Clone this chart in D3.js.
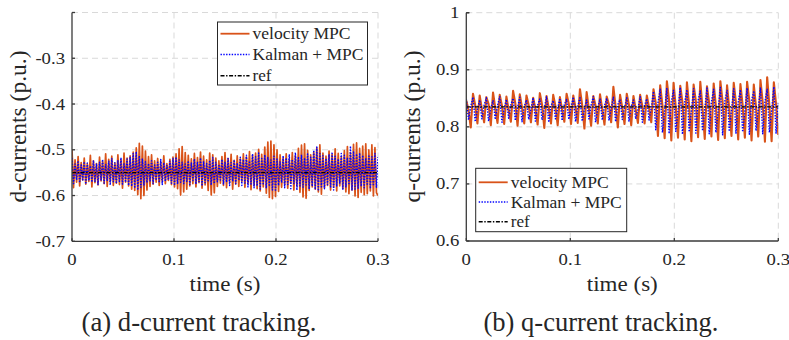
<!DOCTYPE html>
<html>
<head>
<meta charset="utf-8">
<script src="https://cdn.jsdelivr.net/npm/d3@7"></script>
<style>
  body { margin: 0; background: #fff; }
</style>
</head>
<body>
<svg id="fig" width="789" height="340" font-family="'Liberation Serif', 'DejaVu Serif', serif"></svg>
<script>
// ---- d-current tracking (sampled every 1.5 ms) ----
const dTimeStep = 0.0015;
const dVelocityMPC = [
  -0.500, -0.583, -0.522, -0.571, -0.515, -0.579, -0.528, -0.566, -0.518, -0.575,
  -0.531, -0.569, -0.512, -0.581, -0.524, -0.572, -0.530, -0.577, -0.516, -0.568,
  -0.526, -0.574, -0.509, -0.580, -0.521, -0.570, -0.514, -0.578, -0.529, -0.573,
  -0.511, -0.576, -0.522, -0.584, -0.507, -0.571, -0.518, -0.579, -0.513, -0.586,
  -0.505, -0.589, -0.496, -0.598, -0.486, -0.607, -0.492, -0.600, -0.503, -0.588,
  -0.515, -0.580, -0.511, -0.575, -0.524, -0.571, -0.519, -0.578, -0.527, -0.569,
  -0.513, -0.574, -0.530, -0.567, -0.521, -0.576, -0.516, -0.581, -0.509, -0.585,
  -0.498, -0.599, -0.493, -0.592, -0.506, -0.586, -0.512, -0.579, -0.520, -0.574,
  -0.508, -0.581, -0.517, -0.572, -0.505, -0.584, -0.514, -0.577, -0.522, -0.589,
  -0.507, -0.599, -0.511, -0.594, -0.518, -0.580, -0.524, -0.573, -0.515, -0.578,
  -0.506, -0.583, -0.519, -0.571, -0.510, -0.586, -0.523, -0.575, -0.513, -0.580,
  -0.520, -0.569, -0.509, -0.582, -0.516, -0.574, -0.504, -0.587, -0.512, -0.578,
  -0.507, -0.585, -0.499, -0.590, -0.510, -0.581, -0.494, -0.595, -0.483, -0.604,
  -0.481, -0.607, -0.489, -0.602, -0.500, -0.591, -0.511, -0.582, -0.518, -0.576,
  -0.509, -0.584, -0.521, -0.573, -0.506, -0.588, -0.513, -0.579, -0.497, -0.593,
  -0.490, -0.603, -0.487, -0.606, -0.501, -0.589, -0.511, -0.581, -0.505, -0.586,
  -0.496, -0.592, -0.489, -0.597, -0.507, -0.583, -0.514, -0.578, -0.503, -0.588,
  -0.510, -0.581, -0.498, -0.590, -0.508, -0.579, -0.515, -0.585, -0.502, -0.592,
  -0.493, -0.596, -0.506, -0.588, -0.488, -0.601, -0.485, -0.604, -0.497, -0.593,
  -0.492, -0.598, -0.487, -0.596, -0.500, -0.590, -0.489, -0.601, -0.495, -0.594,
  -0.600
];
const dKalmanMPC = [
  -0.518, -0.574, -0.531, -0.566, -0.524, -0.572, -0.533, -0.568, -0.526, -0.575,
  -0.529, -0.567, -0.535, -0.571, -0.523, -0.569, -0.530, -0.576, -0.527, -0.566,
  -0.521, -0.573, -0.532, -0.568, -0.525, -0.577, -0.519, -0.570, -0.528, -0.574,
  -0.524, -0.569, -0.517, -0.575, -0.529, -0.571, -0.520, -0.578, -0.515, -0.580,
  -0.508, -0.584, -0.504, -0.588, -0.513, -0.582, -0.519, -0.577, -0.526, -0.572,
  -0.530, -0.568, -0.524, -0.574, -0.533, -0.567, -0.527, -0.572, -0.521, -0.576,
  -0.528, -0.569, -0.534, -0.566, -0.525, -0.573, -0.519, -0.578, -0.516, -0.575,
  -0.522, -0.571, -0.527, -0.574, -0.531, -0.569, -0.524, -0.576, -0.529, -0.567,
  -0.520, -0.575, -0.526, -0.570, -0.518, -0.579, -0.525, -0.572, -0.530, -0.568,
  -0.523, -0.577, -0.517, -0.574, -0.527, -0.570, -0.532, -0.566, -0.521, -0.575,
  -0.526, -0.571, -0.519, -0.578, -0.528, -0.569, -0.522, -0.574, -0.529, -0.567,
  -0.516, -0.578, -0.521, -0.573, -0.512, -0.581, -0.524, -0.575, -0.509, -0.583,
  -0.515, -0.579, -0.507, -0.586, -0.519, -0.577, -0.511, -0.584, -0.517, -0.580,
  -0.522, -0.588, -0.514, -0.591, -0.520, -0.578, -0.526, -0.572, -0.513, -0.583,
  -0.518, -0.576, -0.510, -0.585, -0.521, -0.574, -0.506, -0.588, -0.515, -0.579,
  -0.511, -0.582, -0.518, -0.577, -0.509, -0.586, -0.516, -0.580, -0.501, -0.587,
  -0.494, -0.590, -0.508, -0.581, -0.513, -0.585, -0.519, -0.576, -0.510, -0.583,
  -0.505, -0.588, -0.514, -0.579, -0.520, -0.574, -0.508, -0.586, -0.512, -0.581,
  -0.517, -0.577, -0.492, -0.589, -0.503, -0.586, -0.509, -0.584, -0.507, -0.580,
  -0.512, -0.583, -0.518, -0.578, -0.511, -0.585, -0.515, -0.579, -0.508, -0.582,
  -0.516
];
const dRef = -0.55;

// ---- q-current tracking (141 samples over 0.3 s) ----
const qTimeStep = 0.3 / 140;
const qVelocityMPC = [
  0.846, 0.829, 0.799,  0.858, 0.838, 0.806,  0.855, 0.831, 0.808,  0.852, 0.840, 0.803,
  0.860, 0.833, 0.807,  0.856, 0.837, 0.805,  0.853, 0.830, 0.809,  0.863, 0.841, 0.802,
  0.857, 0.834, 0.806,  0.855, 0.838, 0.808,  0.851, 0.832, 0.804,  0.859, 0.839, 0.798,
  0.854, 0.833, 0.806,  0.856, 0.836, 0.803,  0.852, 0.830, 0.809,  0.858, 0.840, 0.805,
  0.855, 0.834, 0.807,  0.866, 0.838, 0.797,  0.861, 0.832, 0.802,  0.854, 0.837, 0.806,
  0.857, 0.831, 0.804,  0.853, 0.839, 0.808,  0.870, 0.835, 0.799,  0.856, 0.833, 0.805,
  0.858, 0.838, 0.803,  0.854, 0.831, 0.807,  0.856, 0.836, 0.806,  0.855, 0.834, 0.808,
  0.866, 0.842, 0.784,  0.873, 0.838, 0.780,  0.880, 0.846, 0.776,  0.877, 0.834, 0.781,
  0.872, 0.843, 0.778,  0.878, 0.837, 0.775,  0.874, 0.845, 0.782,  0.879, 0.833, 0.779,
  0.871, 0.841, 0.783,  0.876, 0.836, 0.777,  0.880, 0.844, 0.780,  0.873, 0.832, 0.784,
  0.877, 0.842, 0.778,  0.875, 0.838, 0.781,  0.879, 0.846, 0.776,  0.874, 0.835, 0.783,
  0.882, 0.843, 0.774,  0.887, 0.837, 0.775,  0.878, 0.840, 0.786
];
const qKalmanMPC = [
  0.849, 0.812, 0.836,  0.852, 0.809, 0.831,  0.847, 0.814, 0.838,  0.851, 0.810, 0.833,
  0.846, 0.813, 0.837,  0.853, 0.808, 0.832,  0.848, 0.815, 0.839,  0.850, 0.811, 0.834,
  0.852, 0.809, 0.836,  0.847, 0.813, 0.831,  0.851, 0.810, 0.838,  0.849, 0.812, 0.833,
  0.853, 0.808, 0.837,  0.846, 0.814, 0.832,  0.850, 0.811, 0.839,  0.848, 0.813, 0.834,
  0.852, 0.809, 0.836,  0.851, 0.810, 0.831,  0.847, 0.814, 0.838,  0.853, 0.808, 0.833,
  0.849, 0.812, 0.837,  0.850, 0.811, 0.832,  0.852, 0.809, 0.839,  0.848, 0.813, 0.834,
  0.851, 0.810, 0.836,  0.847, 0.814, 0.831,  0.853, 0.808, 0.838,  0.849, 0.812, 0.833,
  0.862, 0.795, 0.842,  0.866, 0.790, 0.829,  0.868, 0.788, 0.845,  0.864, 0.792, 0.830,
  0.869, 0.787, 0.843,  0.865, 0.791, 0.828,  0.867, 0.789, 0.846,  0.863, 0.793, 0.831,
  0.868, 0.788, 0.844,  0.866, 0.790, 0.829,  0.869, 0.786, 0.845,  0.864, 0.792, 0.830,
  0.867, 0.789, 0.843,  0.865, 0.791, 0.828,  0.868, 0.787, 0.846,  0.863, 0.793, 0.831,
  0.869, 0.788, 0.844,  0.866, 0.790, 0.829,  0.870, 0.789, 0.842
];
const qRef = 0.835;

// ---- axes, ticks and labels ----
const timeTicks = [0, 0.1, 0.2, 0.3];
const timeTickLabels = ["0", "0.1", "0.2", "0.3"];
const dTicks = [-0.7, -0.6, -0.5, -0.4, -0.3];
const dTickLabels = ["-0.7", "-0.6", "-0.5", "-0.4", "-0.3"];
const dGrid = [-0.6, -0.5, -0.4, -0.3, -0.2];
const qTicks = [0.6, 0.7, 0.8, 0.9, 1];
const qTickLabels = ["0.6", "0.7", "0.8", "0.9", "1"];
const qGrid = [0.7, 0.8, 0.9, 1];
const legendNames = ["velocity MPC", "Kalman + MPC", "ref"];
const legendWidths = [98, 111, 19];

const COLORS = { vel: "#D95319", kal: "#0000FF", ref: "#000000" };
const STYLES = [
  { color: COLORS.vel, width: 1.8, dash: null },
  { color: COLORS.kal, width: 1.4, dash: "1.4,1.4" },
  { color: COLORS.ref, width: 1.4, dash: "4,1.6,1.4,1.6" }
];
const SERIF = "'Liberation Serif', 'Times New Roman', serif";

const svg = d3.select("#fig");

function label(g, x, y, str, size, anchor, len) {
  const t = g.append("text")
    .attr("x", x).attr("y", y)
    .attr("font-family", SERIF)
    .attr("font-size", size)
    .attr("fill", "#262626")
    .attr("text-anchor", anchor)
    .text(str);
  if (len) t.attr("textLength", len).attr("lengthAdjust", "spacingAndGlyphs");
  return t;
}

function panel(cfg) {
  const g = svg.append("g");
  const x = d3.scaleLinear().domain([0, 0.3]).range([cfg.left, cfg.right]);
  const y = d3.scaleLinear().domain(cfg.yDomain).range([cfg.bottom, cfg.top]);

  // dashed grid
  const grid = g.append("g").attr("stroke", "#d9d9d9").attr("stroke-width", 1)
    .attr("stroke-dasharray", "6,4");
  grid.selectAll("line.h").data(cfg.grid).join("line")
    .attr("x1", cfg.left).attr("x2", cfg.right)
    .attr("y1", d => y(d)).attr("y2", d => y(d));
  grid.selectAll("line.v").data(timeTicks.slice(1)).join("line")
    .attr("x1", d => x(d)).attr("x2", d => x(d))
    .attr("y1", cfg.top).attr("y2", cfg.bottom);

  // data traces
  const clipId = "clip-" + cfg.id;
  g.append("clipPath").attr("id", clipId).append("rect")
    .attr("x", cfg.left).attr("y", cfg.top)
    .attr("width", cfg.right - cfg.left).attr("height", cfg.bottom - cfg.top);
  const traces = g.append("g").attr("clip-path", `url(#${clipId})`);
  const line = d3.line().x(d => x(d[0])).y(d => y(d[1]));
  const toPts = (arr, dt) => arr.map((v, i) => [i * dt, v]);
  const series = [
    toPts(cfg.vel, cfg.dt),
    toPts(cfg.kal, cfg.dt),
    [[0, cfg.ref], [0.3, cfg.ref]]
  ];
  series.forEach((pts, k) => {
    traces.append("path")
      .attr("d", line(pts))
      .attr("fill", "none")
      .attr("stroke", STYLES[k].color)
      .attr("stroke-width", k === 0 ? cfg.velWidth : STYLES[k].width)
      .attr("stroke-linejoin", "round")
      .attr("stroke-dasharray", STYLES[k].dash);
  });

  // axis lines with inward ticks
  const ax = g.append("g").attr("stroke", "#3a3a3a").attr("stroke-width", 1.3);
  ax.append("line").attr("x1", cfg.left).attr("x2", cfg.left)
    .attr("y1", cfg.top).attr("y2", cfg.bottom);
  ax.append("line").attr("x1", cfg.left).attr("x2", cfg.right)
    .attr("y1", cfg.bottom).attr("y2", cfg.bottom);
  ax.selectAll("line.yt").data(cfg.ticks.concat(cfg.yDomain[1])).join("line")
    .attr("x1", cfg.left).attr("x2", cfg.left + 3)
    .attr("y1", d => y(d)).attr("y2", d => y(d));
  ax.selectAll("line.xt").data(timeTicks).join("line")
    .attr("x1", d => x(d)).attr("x2", d => x(d))
    .attr("y1", cfg.bottom).attr("y2", cfg.bottom - 3);

  // tick labels
  cfg.ticks.forEach((v, i) => {
    label(g, cfg.left - 7, y(v) + 5.5, cfg.tickLabels[i], 17, "end")
      .attr("transform", `translate(${cfg.left - 7},0) scale(1.1,1) translate(${-(cfg.left - 7)},0)`);
  });
  timeTicks.forEach((v, i) => {
    label(g, x(v), 265.5, timeTickLabels[i], 17, "middle")
      .attr("transform", `translate(${x(v)},0) scale(1.1,1) translate(${-x(v)},0)`);
  });

  // axis titles and caption
  label(g, (cfg.left + cfg.right) / 2, 291, "time (s)", 21, "middle", 71);
  g.append("text")
    .attr("transform", `translate(${cfg.left - 46.5},126.5) rotate(-90)`)
    .attr("font-family", SERIF)
    .attr("font-size", 23.5)
    .attr("fill", "#262626")
    .attr("text-anchor", "middle")
    .text(cfg.yTitle);
  label(g, cfg.captionX, 330.5, cfg.caption, 27, "middle", 235);

  // legend
  const L = cfg.legend;
  const lg = g.append("g");
  lg.append("rect").attr("x", L.x).attr("y", L.y)
    .attr("width", L.w).attr("height", L.h)
    .attr("fill", "#fff").attr("stroke", "#262626").attr("stroke-width", 1);
  legendNames.forEach((name, k) => {
    const ly = L.rows[k];
    lg.append("line")
      .attr("x1", L.x + 3).attr("x2", L.x + 32)
      .attr("y1", ly).attr("y2", ly)
      .attr("stroke", STYLES[k].color).attr("stroke-width", STYLES[k].width)
      .attr("stroke-dasharray", STYLES[k].dash);
    label(lg, L.x + 35, ly + 5.5, name, 16, "start", legendWidths[k]);
  });
}

panel({
  id: "d", left: 72, right: 378, top: 12.5, bottom: 241.3,
  yDomain: [-0.7, -0.2], ticks: dTicks, tickLabels: dTickLabels, grid: dGrid,
  vel: dVelocityMPC, kal: dKalmanMPC, ref: dRef, dt: dTimeStep, velWidth: 1.7,
  yTitle: "d-currents (p.u.)", caption: "(a) d-current tracking.", captionX: 199,
  legend: { x: 217.5, y: 22, w: 150, h: 63, rows: [33.7, 54.5, 75.8] }
});

panel({
  id: "q", left: 466.3, right: 778.3, top: 12.7, bottom: 241,
  yDomain: [0.6, 1], ticks: qTicks, tickLabels: qTickLabels, grid: qGrid,
  vel: qVelocityMPC, kal: qKalmanMPC, ref: qRef, dt: qTimeStep, velWidth: 2.1,
  yTitle: "q-currents (p.u.)", caption: "(b) q-current tracking.", captionX: 601,
  legend: { x: 475.7, y: 168.3, w: 151, h: 63.4, rows: [182.3, 202, 221.7] }
});
</script>
</body>
</html>
